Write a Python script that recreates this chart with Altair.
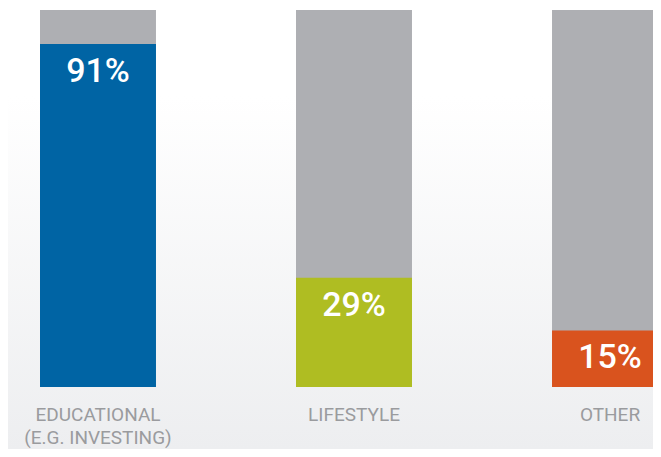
import altair as alt
import pandas as pd

categories = ["EDUCATIONAL", "LIFESTYLE", "OTHER"]
cat_labels = ["EDUCATIONAL\n(E.G. INVESTING)", "LIFESTYLE", "OTHER"]
values = [91, 29, 15]
totals = [100, 100, 100]
value_labels = ["91%", "29%", "15%"]
colors = ["#0064a4", "#afbd22", "#d9531e"]

df = pd.DataFrame({
    "cat": categories,
    "label": cat_labels,
    "value": values,
    "total": totals,
    "vlabel": value_labels,
})

W, H = 645, 441
xs = alt.Scale(domain=categories, range=[32, 660], paddingInner=0.547, paddingOuter=0)
ys = alt.Scale(domain=[0, 100], range=[379, 2], nice=False)

x = alt.X("cat:N", scale=xs, axis=None, sort=categories)
base = alt.Chart(df)

bg = alt.Chart(pd.DataFrame({"a": [0]})).mark_rect(
    color=alt.Gradient(
        gradient="linear", x1=0, y1=0, x2=0, y2=1,
        stops=[
            alt.GradientStop(offset=0, color="#ffffff"),
            alt.GradientStop(offset=0.2, color="#ffffff"),
            alt.GradientStop(offset=1, color="#edeef0"),
        ],
    )
).encode(x=alt.value(-10), x2=alt.value(W + 10), y=alt.value(0), y2=alt.value(H))

gray = base.mark_bar(color="#aeafb3").encode(
    x=x, y=alt.Y("total:Q", scale=ys, axis=None)
)
colored = base.mark_bar().encode(
    x=x,
    y=alt.Y("value:Q", scale=ys, axis=None),
    color=alt.Color("cat:N", scale=alt.Scale(domain=categories, range=colors), legend=None),
)
vtext = base.mark_text(
    font="Roboto", fontSize=34, fontWeight=500, color="white",
    baseline="alphabetic", align="center", dy=38,
).encode(
    x=alt.X("cat:N", scale=xs, axis=None, sort=categories, bandPosition=0.5),
    y=alt.Y("value:Q", scale=ys, axis=None),
    text="vlabel:N",
)
ctext = base.mark_text(
    font="Roboto", fontSize=19, fontWeight=400, color="#9a9b9e",
    baseline="alphabetic", align="center", lineBreak="\n", lineHeight=23,
).encode(
    x=alt.X("cat:N", scale=xs, axis=None, sort=categories, bandPosition=0.5),
    y=alt.value(413),
    text="label:N",
)

chart = alt.layer(bg, gray, colored, vtext, ctext).properties(
    width=W, height=H,
    autosize=alt.AutoSizeParams(type="none"),
    padding=0,
    background="white",
).configure_view(stroke=None)

chart.save("out.html", embed_options={"renderer": "svg", "actions": False})
